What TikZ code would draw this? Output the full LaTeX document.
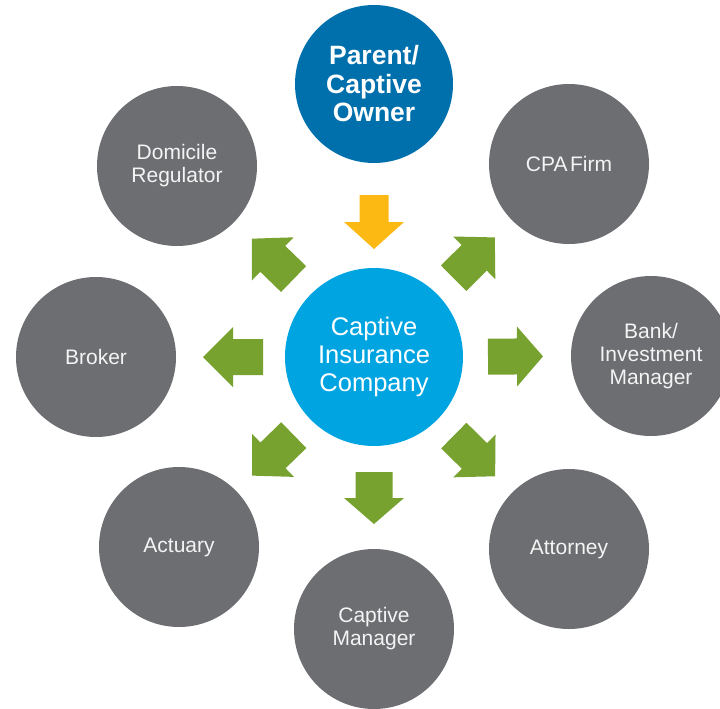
\documentclass[tikz,border=0pt]{standalone}
\usepackage{fontspec}
\setmainfont{Liberation Sans}
\usetikzlibrary{calc}
\definecolor{cgray}{HTML}{6D6E71}
\definecolor{cdblue}{HTML}{0070AD}
\definecolor{clblue}{HTML}{00A4E1}
\definecolor{cgreen}{HTML}{78A22F}
\definecolor{cyellow}{HTML}{FDB913}
\definecolor{ctext}{HTML}{F4F4F4}
\tikzset{
  party/.style={circle, fill=cgray, draw=none, minimum size=160pt, inner sep=0pt,
    text=ctext, align=center, font=\fontsize{21}{23}\selectfont},
  owner/.style={circle, fill=cdblue, draw=none, minimum size=158pt, inner sep=0pt,
    text=white, align=center, font=\fontsize{26.5}{28.5}\selectfont\bfseries},
  captive/.style={circle, fill=clblue, draw=none, minimum size=178pt, inner sep=0pt,
    text=white, align=center, font=\fontsize{25.5}{28}\selectfont},
  garrow/.style={fill=cgreen},
  yarrow/.style={fill=cyellow}
}
% #1 from node, #2 to node, #3 tail dist, #4 neck dist, #5 tip dist, #6 shaft half width, #7 style
\newcommand\blockarr[7]{%
  \pgfmathanglebetweenpoints{\pgfpointanchor{#1}{center}}{\pgfpointanchor{#2}{center}}%
  \edef\barang{\pgfmathresult}%
  \fill[#7, shift={(#1.center)}, rotate=\barang]
    (#3pt,-#6pt) -- (#4pt,-#6pt) -- (#4pt,-30pt) -- (#5pt,0pt) -- (#4pt,30pt)
    -- (#4pt,#6pt) -- (#3pt,#6pt) -- cycle;
}
\begin{document}
\begin{tikzpicture}[x=1pt, y=-1pt]
\useasboundingbox (0,0) rectangle (720,709);
\node[owner] (top) at (374,84) {Parent/\\Captive\\Owner};
\node[captive] (ctr) at (374,357) {Captive\\Insurance\\Company};
\node[party] (dom) at (177,166) {Domicile\\Regulator};
\node[party] (cpa) at (569,164) {CPA\hspace{0.12em}Firm};
\node[party] (brk) at (96,357) {Broker};
\node[party] (bank) at (651,356) {Bank/\\Investment\\Manager};
\node[party] (act) at (179,547) {Actuary};
\node[party] (att) at (569,549) {Attorney};
\node[party] (mgr) at (374,629) {Captive\\Manager};
\blockarr{top}{ctr}{111}{138}{165}{14.5}{yarrow}
\blockarr{ctr}{mgr}{115}{141}{167}{18.5}{garrow}
\blockarr{ctr}{brk}{111}{141}{171}{18}{garrow}
\blockarr{ctr}{bank}{114}{143}{169}{18}{garrow}
\blockarr{ctr}{dom}{112}{141}{170}{18}{garrow}
\blockarr{ctr}{cpa}{112}{141}{170}{18}{garrow}
\blockarr{ctr}{act}{112}{141}{170}{18}{garrow}
\blockarr{ctr}{att}{112}{141}{170}{18}{garrow}
\end{tikzpicture}
\end{document}
